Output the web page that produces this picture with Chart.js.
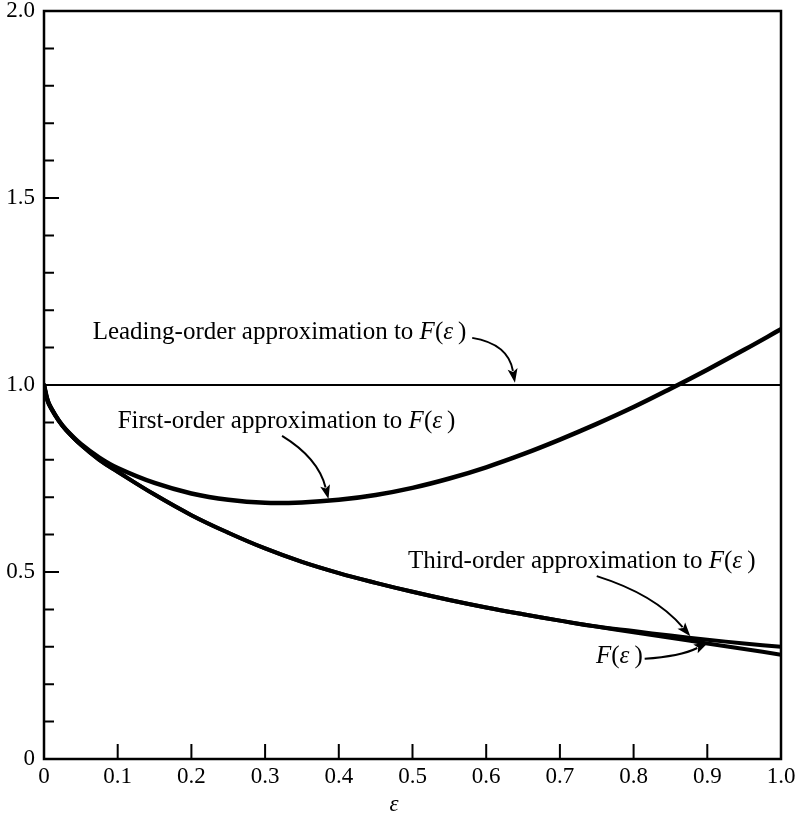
<!DOCTYPE html>
<html>
<head>
<meta charset="utf-8">
<script src="https://cdn.jsdelivr.net/npm/chart.js@4.4.0/dist/chart.umd.min.js"></script>
<style>
  html, body { margin: 0; padding: 0; background: #fff; }
  #wrap { width: 799px; height: 826px; }
</style>
</head>
<body>
<div id="wrap"><canvas id="chart" width="799" height="826"></canvas></div>
<script>
// Sample points along the epsilon axis
const eps = [0, 0.005, 0.01, 0.02, 0.03, 0.05, 0.075, 0.1, 0.15, 0.2, 0.25, 0.3, 0.35,
             0.4, 0.45, 0.5, 0.55, 0.6, 0.65, 0.7, 0.75, 0.8, 0.85, 0.9, 0.95, 1.0];

// Exact F(epsilon)
const exactF = [1.0, 0.958, 0.937, 0.905, 0.880, 0.840, 0.800, 0.768, 0.707, 0.652, 0.605, 0.563, 0.527,
                0.497, 0.471, 0.447, 0.425, 0.405, 0.387, 0.370, 0.354, 0.339, 0.324, 0.309, 0.294, 0.279];

// First-order approximation
const firstOrder = [1.0, 0.958, 0.937, 0.905, 0.880, 0.842, 0.806, 0.778, 0.738, 0.710, 0.693, 0.685, 0.686,
                    0.693, 0.706, 0.725, 0.750, 0.780, 0.815, 0.854, 0.896, 0.941, 0.990, 1.041, 1.094, 1.149];

// Third-order approximation
const thirdOrder = [1.0, 0.958, 0.937, 0.905, 0.880, 0.840, 0.800, 0.768, 0.707, 0.652, 0.605, 0.563, 0.527,
                    0.497, 0.471, 0.447, 0.425, 0.405, 0.387, 0.370, 0.354, 0.342, 0.330, 0.319, 0.309, 0.300];

// Leading-order approximation (constant)
const leadingEps = [0, 1.0];
const leadingOrder = [1.0, 1.0];

// Axis ticks
const xTickValues = [0, 0.1, 0.2, 0.3, 0.4, 0.5, 0.6, 0.7, 0.8, 0.9, 1.0];
const yLabelValues = [0, 0.5, 1.0, 1.5, 2.0];
const yMinorTicks = [0.1, 0.2, 0.3, 0.4, 0.6, 0.7, 0.8, 0.9, 1.1, 1.2, 1.3, 1.4, 1.6, 1.7, 1.8, 1.9];

const SERIF = '"Liberation Serif", "Times New Roman", serif';
const THIN = '\u2009';

function pts(xs, ys) { return ys.map((v, i) => ({ x: xs[i], y: v })); }

function curve(data, width) {
  return {
    data, borderColor: '#000', borderWidth: width, pointRadius: 0,
    fill: false, tension: 0.4, borderCapStyle: 'round', borderJoinStyle: 'round'
  };
}

// Labels with arrows, anchored in data units
const notes = [
  { runs: [['Leading-order approximation to ', false], ['F', true], ['(', false], ['ε', true], [THIN + ')', false]],
    at: [0.066, 1.123], arrow: [[0.581, 1.126], [0.630, 1.110], [0.639, 1.006]] },
  { runs: [['First-order approximation to ', false], ['F', true], ['(', false], ['ε', true], [THIN + ')', false]],
    at: [0.100, 0.885], arrow: [[0.323, 0.864], [0.372, 0.805], [0.386, 0.695]] },
  { runs: [['Third-order approximation to ', false], ['F', true], ['(', false], ['ε', true], [THIN + ')', false]],
    at: [0.494, 0.511], arrow: [[0.750, 0.489], [0.829, 0.440], [0.877, 0.328]] },
  { runs: [['F', true], ['(', false], ['ε', true], [THIN + ')', false]],
    at: [0.749, 0.257], arrow: [[0.815, 0.268], [0.863, 0.274], [0.901, 0.311]] }
];

const decorations = {
  id: 'decorations',
  afterDraw(chart) {
    const { ctx, chartArea: a, scales: { x, y } } = chart;
    ctx.save();
    ctx.strokeStyle = '#000';
    ctx.fillStyle = '#000';

    // inward tick marks
    ctx.lineWidth = 2;
    ctx.beginPath();
    xTickValues.forEach(v => {
      const px = x.getPixelForValue(v);
      ctx.moveTo(px, a.bottom); ctx.lineTo(px, a.bottom - 15);
    });
    yLabelValues.forEach(v => {
      const py = y.getPixelForValue(v);
      ctx.moveTo(a.left, py); ctx.lineTo(a.left + 15, py);
    });
    yMinorTicks.forEach(v => {
      const py = y.getPixelForValue(v);
      ctx.moveTo(a.left, py); ctx.lineTo(a.left + 10, py);
    });
    ctx.stroke();

    // frame
    ctx.lineWidth = 2.5;
    ctx.strokeRect(a.left, a.top, a.right - a.left, a.bottom - a.top);

    // annotations
    ctx.textBaseline = 'alphabetic';
    ctx.textAlign = 'left';
    notes.forEach(n => {
      let cx = x.getPixelForValue(n.at[0]);
      const cy = y.getPixelForValue(n.at[1]);
      n.runs.forEach(([t, it]) => {
        ctx.font = (it ? 'italic ' : '') + '25px ' + SERIF;
        ctx.fillText(t, cx, cy);
        cx += ctx.measureText(t).width;
      });
      const [s, c, e] = n.arrow.map(p => [x.getPixelForValue(p[0]), y.getPixelForValue(p[1])]);
      const ang = Math.atan2(e[1] - c[1], e[0] - c[0]);
      const L = 14, W = 5;
      const bx = e[0] - L * Math.cos(ang), by = e[1] - L * Math.sin(ang);
      ctx.lineWidth = 2;
      ctx.beginPath();
      ctx.moveTo(s[0], s[1]);
      ctx.quadraticCurveTo(c[0], c[1], bx + 2 * Math.cos(ang), by + 2 * Math.sin(ang));
      ctx.stroke();
      ctx.beginPath();
      ctx.moveTo(e[0], e[1]);
      ctx.lineTo(bx + W * Math.sin(ang), by - W * Math.cos(ang));
      ctx.lineTo(bx + 3 * Math.cos(ang), by + 3 * Math.sin(ang));
      ctx.lineTo(bx - W * Math.sin(ang), by + W * Math.cos(ang));
      ctx.closePath();
      ctx.fill();
    });

    // axis variable
    ctx.font = 'italic 23px ' + SERIF;
    ctx.textAlign = 'center';
    ctx.fillText('ε', x.getPixelForValue(0.475), a.bottom + 52);
    ctx.restore();
  }
};

new Chart(document.getElementById('chart'), {
  type: 'line',
  data: {
    datasets: [
      curve(pts(leadingEps, leadingOrder), 2),
      curve(pts(eps, firstOrder), 4.5),
      curve(pts(eps, thirdOrder), 4),
      curve(pts(eps, exactF), 4)
    ]
  },
  options: {
    responsive: false,
    animation: false,
    devicePixelRatio: 1,
    layout: { padding: { top: 11, right: 18, left: 0, bottom: 0 } },
    plugins: { legend: { display: false }, tooltip: { enabled: false } },
    scales: {
      x: {
        type: 'linear', min: 0, max: 1,
        afterFit: s => { s.height = 67; s.paddingLeft = 0; s.paddingRight = 0; },
        afterBuildTicks: s => { s.ticks = xTickValues.map(v => ({ value: v })); },
        grid: { display: false, drawTicks: false }, border: { display: false },
        ticks: {
          autoSkip: false, maxRotation: 0, padding: 4, color: '#000',
          font: { family: SERIF, size: 23 },
          callback: v => (v === 0 ? '0' : v.toFixed(1))
        }
      },
      y: {
        type: 'linear', min: 0, max: 2,
        afterFit: s => { s.width = 44; s.paddingTop = 0; s.paddingBottom = 0; },
        afterBuildTicks: s => { s.ticks = yLabelValues.map(v => ({ value: v })); },
        grid: { display: false, drawTicks: false }, border: { display: false },
        ticks: {
          padding: 9, color: '#000',
          font: { family: SERIF, size: 23 },
          callback: v => (v === 0 ? '0' : v.toFixed(1))
        }
      }
    }
  },
  plugins: [decorations]
});
</script>
</body>
</html>
